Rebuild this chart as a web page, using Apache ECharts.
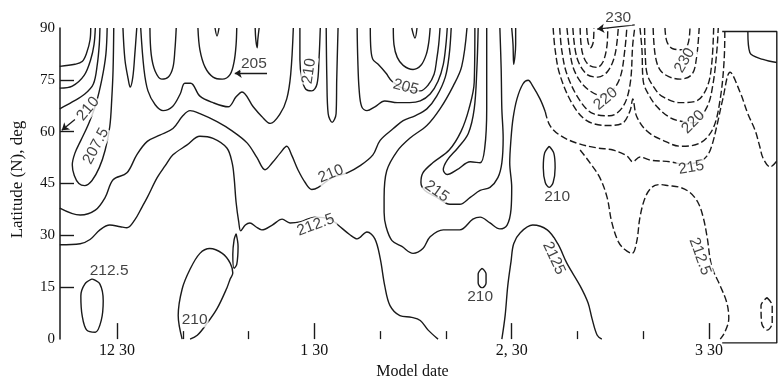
<!DOCTYPE html>
<html>
<head>
<meta charset="utf-8">
<script src="https://cdn.jsdelivr.net/npm/echarts@6/dist/echarts.min.js"></script>
<style>
html,body{margin:0;padding:0;background:#fff}
#chart{width:782px;height:385px}
</style>
</head>
<body>
<div id="chart"></div>
<script>
// ---------- axes ----------
const dateTickDays = [0, 30, 60, 90];
const dateTickLabels = ['12 30', '1 30', '2, 30', '3 30'];
const minorTickDays = [10, 20, 40, 50, 70, 80];
const latTickValues = [15, 30, 45, 60, 75];

// ---------- isotherms, [day after 12/30, latitude N] ----------
const isoA = [[-8.7,78.9],[-6.4,79.5],[-5.3,80.3],[-4.6,82.9],[-4.1,86.6],[-4.0,90]];
const isoB = [[-8.7,72.6],[-6.8,73.2],[-5.0,76.3],[-4.0,80.9],[-3.5,85.2],[-3.3,90]];
const isoC = [[-8.7,66.6],[-6.8,68.6],[-4.9,70.9],[-3.6,73.8],[-3.0,79.5],[-2.7,85.2],[-2.6,90]];
const iso2075 = [[-1.5,90],[-1.7,82.3],[-2.3,75.2],[-3.2,68.1],[-4.3,62.4],[-5.5,57.5],[-6.4,53.8],[-6.8,50.4],[-6.5,47.3],[-5.8,45.0],[-4.9,44.4],[-3.8,45.9],[-2.7,49.6],[-1.8,54.7],[-1.1,61.5],[-0.8,69.5],[-0.6,78.0],[-0.5,90]];
const isoV1 = [[0.9,90],[1.2,80.9],[1.7,75.2],[2.0,72.9],[2.4,75.8],[2.7,82.3],[3.0,90]];
const isoU1 = [[5.0,90],[5.2,82.3],[5.8,77.5],[6.8,75.2],[7.8,75.8],[8.5,78.6],[8.8,83.7],[9.0,90]];
const isoG = [[3.6,90],[4.1,78.0],[4.7,71.8],[5.8,67.8],[7.0,66.1],[8.4,67.2],[9.6,70.9],[10.3,74.0],[11.2,74.0],[12.6,70.3],[14.6,68.4],[16.9,67.2],[18.1,70.1],[19.0,71.5],[20.7,67.2],[22.0,64.4],[23.3,62.4],[24.8,65.2],[25.8,69.5],[26.4,76.6],[26.8,90]];
const isoU2 = [[12.3,90],[12.6,83.7],[13.4,78.6],[14.6,75.8],[16.0,75.2],[17.2,76.6],[17.8,80.3],[18.1,85.2],[18.2,90]];
const isoV0 = [[14.9,90],[15.2,87.7],[15.5,90]];
const isoV2 = [[21.0,90],[21.1,86.6],[21.3,84.3],[21.4,86.6],[21.6,90]];
const isoU3 = [[27.8,90],[27.8,80.9],[28.1,75.2],[28.7,72.3],[29.6,71.8],[30.4,73.8],[30.7,80.9],[30.9,90]];
const isoU4 = [[31.8,90],[31.9,75.2],[32.1,65.2],[32.7,62.7],[33.3,65.2],[33.4,75.2],[33.6,90]];
const isoMout = [[36.5,90],[36.6,80.9],[36.8,72.3],[37.2,67.2],[38.0,66.1],[39.2,67.2],[40.7,68.9],[42.6,68.4],[44.5,68.4],[46.1,68.9],[47.6,70.9],[48.8,74.6],[49.6,79.5],[50.0,85.2],[50.2,90]];
const iso205 = [[38.5,90],[38.6,83.7],[38.9,80.9],[39.7,79.5],[40.9,76.9],[41.8,74.6],[43.8,72.3],[46.1,71.8],[47.3,73.5],[48.2,76.6],[48.6,80.9],[48.9,85.2],[49.1,90]];
const isoMin = [[42.0,90],[42.1,85.2],[42.6,81.5],[43.5,79.2],[45.0,78.0],[46.2,79.2],[47.0,82.3],[47.4,86.0],[47.6,90]];
const isoV3 = [[44.8,90],[45.3,87.1],[45.6,90]];
const iso210 = [[-8.7,37.9],[-5.6,35.9],[-3.3,37.3],[-1.8,41.0],[-0.6,46.1],[1.5,48.1],[3.0,53.3],[4.6,57.2],[6.5,59.0],[8.5,60.9],[10.0,64.6],[11.1,66.1],[12.6,65.2],[15.2,62.9],[17.6,60.1],[19.8,56.7],[21.3,52.4],[22.5,49.0],[23.6,51.0],[24.8,53.8],[25.8,55.8],[26.6,53.0],[27.5,49.0],[28.6,45.3],[29.6,43.3],[30.6,43.9],[32.7,46.7],[35.0,48.1],[36.9,50.1],[38.9,53.3],[40.0,57.5],[42.0,60.9],[43.5,63.2],[45.3,64.6],[47.1,66.6],[48.6,70.3],[49.9,75.8],[50.5,82.3],[50.8,90]];
const iso2125 = [[-8.7,27.3],[-5.6,27.6],[-4.1,28.8],[-2.6,31.6],[-1.1,33.0],[0.5,32.5],[1.5,32.2],[2.7,34.5],[3.8,38.2],[4.6,41.0],[6.1,46.7],[7.3,50.1],[8.5,53.3],[10.6,56.1],[12.6,58.7],[14.6,58.1],[16.7,55.3],[17.5,51.0],[17.8,46.7],[18.1,39.6],[18.5,33.9],[18.8,31.3],[19.5,33.0],[20.2,33.6],[21.1,32.5],[22.0,31.6],[23.6,33.0],[25.1,34.7],[26.3,33.6],[27.8,33.9],[30.1,35.3],[32.4,34.7],[33.6,33.0],[35.4,30.2],[36.5,29.0],[38.0,31.0],[39.2,29.0],[40.0,23.4],[40.7,15.4],[41.5,9.7],[43.0,6.8],[44.8,6.3],[46.1,5.4],[47.3,2.6],[48.8,0]];
const isoK1 = [[53.2,90],[52.4,78.9],[51.1,73.2],[49.1,66.6],[47.1,61.8],[44.5,58.1],[42.6,54.4],[41.0,48.7],[40.6,41.0],[40.6,36.7],[40.9,32.5],[41.8,28.5],[43.3,26.8],[45.0,24.8],[46.5,26.2],[47.6,29.6],[49.6,31.6],[52.1,31.6],[54.1,34.7],[55.2,35.3],[56.7,33.6],[58.2,31.9],[59.3,33.0],[59.9,37.6],[60.0,43.9],[59.7,51.0],[59.9,58.1],[60.2,63.8],[60.8,69.5],[61.7,73.8],[62.5,74.9],[63.2,73.2],[64.3,69.5],[65.1,65.8]];
const isoK1east = [[65.1,65.8],[65.8,61.8],[67.3,59.0],[69.9,56.7],[73.0,55.3],[75.4,54.7],[77.5,53.0],[78.4,51.3],[79.5,52.7],[81.0,51.8],[84.1,51.3],[86.0,50.6],[88.5,51.3],[89.7,53.0],[90.4,55.8],[91.2,61.8],[92.1,69.5],[93.2,77.2],[94.7,71.5],[95.9,65.2],[97.0,60.4],[97.7,55.8],[98.2,52.4],[99.3,49.8],[100.3,51.5]];
const isoK2 = [[54.4,90],[54.3,74.3],[53.5,66.6],[52.3,60.1],[50.5,54.7],[48.0,51.0],[46.5,48.1],[46.2,45.3],[46.8,43.0],[48.6,41.0],[50.6,39.0],[52.1,39.0],[53.7,41.0],[55.2,43.0],[56.7,43.9],[57.9,46.7],[58.5,51.0],[58.7,58.1],[58.5,66.6],[58.4,78.0],[58.2,90]];
const isoK3 = [[54.9,90],[54.7,78.0],[54.3,66.6],[53.4,59.5],[51.8,55.3],[50.2,51.8],[49.6,49.0],[50.2,47.6],[51.7,49.0],[53.7,51.3],[55.2,51.0],[55.9,55.3],[56.2,66.6],[56.2,80.9],[56.2,90]];
const isoV4 = [[60.0,90],[60.2,85.2],[60.3,79.5],[60.6,85.2],[60.6,90]];
const isoS = [[58.5,0],[59.0,6.8],[59.4,15.4],[59.9,22.5],[60.3,27.6],[61.3,30.8],[63.2,33.0],[65.4,31.6],[67.0,27.6],[68.4,21.9],[70.4,15.4],[71.6,10.5],[72.2,6.0],[73.0,1.1],[73.7,0]];
const isoR = [[70.4,54.7],[71.9,51.0],[73.4,46.7],[74.5,41.0],[75.2,33.9],[76.2,28.2],[77.2,25.9],[78.3,24.8],[79.0,28.2],[79.5,35.3],[80.3,41.0],[81.3,43.9],[82.5,44.7],[83.8,44.4],[85.6,43.9],[87.1,42.4],[88.3,39.6],[89.1,35.3],[89.7,29.6],[90.4,21.1],[91.7,15.4],[92.7,10.5],[93.0,6.0],[92.4,2.0],[91.7,0]];
const isoP1a = [[71.4,90],[71.6,86.0],[72.0,84.3],[72.4,86.0],[72.5,90]];
const isoP1b = [[70.4,90],[70.7,83.2],[71.6,79.5],[73.0,78.6],[73.9,80.3],[74.5,85.2],[74.6,90]];
const isoP1c = [[69.3,90],[69.9,81.5],[71.4,76.6],[73.1,75.8],[74.6,77.5],[75.7,82.3],[76.2,90]];
const isoP1d = [[68.4,90],[69.2,79.5],[70.4,74.6],[71.9,71.8],[73.4,70.6],[75.2,71.8],[76.5,75.8],[77.2,83.7],[77.5,90]];
const isoP1e = [[67.3,90],[67.6,83.7],[68.4,76.6],[70.4,68.9],[72.4,65.2],[74.9,64.6],[76.9,67.2],[78.0,73.8],[78.4,85.2],[78.7,90]];
const isoW = [[66.3,90],[66.6,83.7],[67.3,76.6],[69.2,68.1],[71.4,63.2],[74.5,61.8],[76.8,62.4],[78.0,66.1],[78.4,69.5],[79.0,64.4],[80.6,60.1],[83.0,57.5],[85.6,55.8],[88.6,56.7],[90.6,60.9],[91.7,69.5],[92.3,80.9],[92.4,90]];
const isoP2a = [[83.3,90],[83.6,86.0],[84.5,84.0],[86.0,83.7],[86.8,85.4],[87.1,90]];
const isoP2b = [[81.5,90],[81.8,82.3],[82.5,78.0],[83.8,76.0],[85.6,75.2],[87.4,76.6],[88.1,81.5],[88.5,90]];
const isoP2c = [[80.2,90],[80.3,82.3],[80.6,76.6],[81.6,72.9],[82.8,70.3],[85.6,68.4],[88.1,68.9],[89.7,72.9],[90.4,79.5],[90.7,90]];
const isoP2d = [[79.5,90],[79.8,83.7],[80.0,74.6],[81.0,70.1],[82.1,67.2],[83.8,64.4],[85.3,63.2],[87.6,62.6],[89.7,67.2],[90.6,73.8],[91.2,83.7],[91.4,90]];
const isoCorner = [[95.9,89],[96.2,82.9],[98.2,80.9],[100.3,80.0]];

// closed cells
const cell2125 = [[-3.8,17.4],[-2.6,15.9],[-2.1,11.1],[-2.4,5.4],[-3.3,2.0],[-4.6,2.6],[-5.3,6.8],[-5.5,12.5],[-4.9,15.9],[-3.8,17.4]];
const cell210s = [[9.9,0],[9.3,6.8],[9.9,14.5],[11.1,20.2],[12.6,24.8],[14.1,26.2],[16.0,24.8],[17.2,22.0],[17.6,19.1],[17.2,17.4],[16.7,14.8],[15.2,8.8],[13.7,4.6],[12.2,1.1],[11.1,0]];
const cellNarrow = [[18.1,30.5],[18.4,26.8],[18.2,21.6],[17.8,20.5],[17.6,24.5],[17.8,28.8],[18.1,30.5]];
const cell210b = [[55.5,20.5],[56.1,18.8],[56.1,16.2],[55.5,14.8],[54.9,16.2],[54.9,18.8],[55.5,20.5]];
const cell210a = [[65.7,55.8],[66.4,53.8],[66.6,49.6],[66.3,45.3],[65.7,43.9],[65.1,45.3],[64.8,49.6],[65.0,53.8],[65.7,55.8]];
const cellEast = [[98.8,12.0],[99.6,9.7],[99.6,4.6],[98.8,2.6],[98.0,4.6],[97.9,9.7],[98.8,12.0]];

// frame of the extended late-March panel
const eastFrame = [[92.0,89],[100.3,89],[100.3,-1.1],[92.0,-1.1]];

// isotherm labels: [day, latitude, text]
const isoLabels = [
  [-4.4, 66.6, '210'], [-3.2, 55.8, '207.5'], [29.2, 77.5, '210'],
  [43.9, 72.9, '205'], [32.5, 47.8, '210'], [30.2, 33.0, '212.5'],
  [48.6, 42.7, '215'], [66.9, 41.3, '210'], [55.2, 12.4, '210'],
  [66.4, 23.4, '2125'], [88.6, 23.9, '212.5'], [87.3, 49.6, '215'],
  [74.3, 69.5, '220'], [86.3, 80.6, '230'], [87.6, 62.8, '220'],
  [-1.2, 19.9, '212.5'], [11.8, 5.7, '210'],
  [20.8, 79.8, '205'], [76.2, 93.1, '230']
];
const isoLabelAngles = [50, 62, 82, -15, 22, 20, -35, 0, 0, -65, -70, 10, 40, 60, 45, 0, 0, 0, 0];

// pointer lines from labels: [[day, lat], [day, lat]]
const pointers = [
  [[22.8, 76.9], [17.9, 76.9]],
  [[78.7, 90.9], [73.0, 89.7]],
  [[-6.4, 63.5], [-8.4, 60.4]]
];

const solidCurves = [isoA, isoB, isoC, iso2075, isoV1, isoU1, isoG, isoU2, isoV0, isoV2,
  isoU3, isoU4, isoMout, iso205, isoMin, isoV3, iso210, iso2125, isoK1, isoK2, isoK3,
  isoV4, isoS, cell2125, cell210s, cellNarrow, cell210b, cell210a, isoCorner];
const dashedCurves = [isoK1east, isoR, isoP1a, isoP1b, isoP1c, isoP1d, isoP1e, isoW,
  isoP2a, isoP2b, isoP2c, isoP2d, cellEast];

const INK = '#1a1a1a';
const SERIF = '"Liberation Serif", "DejaVu Serif", serif';
const SANS = '"Liberation Sans", "DejaVu Sans", sans-serif';

function curveSeries(data, dashed) {
  return {
    type: 'line', data: data, xAxisIndex: 0, yAxisIndex: 0,
    showSymbol: false, symbol: 'none', smooth: 0.35, clip: false, silent: true,
    lineStyle: { color: INK, width: 1.4, type: dashed ? [7, 3] : 'solid' },
    z: 2
  };
}

const series = [];
solidCurves.forEach(c => series.push(curveSeries(c, false)));
dashedCurves.forEach(c => series.push(curveSeries(c, true)));
series.push({
  type: 'line', data: eastFrame, showSymbol: false, symbol: 'none', smooth: false,
  clip: false, silent: true, lineStyle: { color: INK, width: 1.4 }, z: 2
});
series.push({
  type: 'lines', coordinateSystem: 'cartesian2d', clip: false, silent: true,
  symbol: ['none', 'arrow'], symbolSize: 7,
  itemStyle: { color: INK },
  lineStyle: { color: INK, width: 1.3, opacity: 1, curveness: 0 },
  data: pointers.map(p => ({ coords: p })), z: 4
});
series.push({
  type: 'scatter', symbolSize: 0, clip: false, silent: true, z: 5,
  data: isoLabels.map((l, i) => ({
    value: [l[0], l[1]],
    label: { formatter: l[2], rotate: isoLabelAngles[i] }
  })),
  label: {
    show: true, position: 'inside', color: '#111', fontFamily: SANS, fontSize: 15.5,
    backgroundColor: '#fff', padding: [0, 1]
  }
});

const X_MIN = -8.67, X_MAX = 100.33;
const chart = echarts.init(document.getElementById('chart'), null, { renderer: 'canvas' });
chart.setOption({
  animation: false,
  backgroundColor: '#fff',
  grid: { left: 60, right: 5, top: 28, bottom: 41 },
  xAxis: [
    {
      type: 'value', min: X_MIN, max: X_MAX, position: 'bottom',
      axisLine: { show: false, onZero: false },
      splitLine: { show: false },
      axisTick: { show: true, inside: true, length: 16, customValues: dateTickDays,
        lineStyle: { color: INK, width: 1.4 } },
      axisLabel: { show: true, customValues: dateTickDays, margin: 4,
        formatter: v => dateTickLabels[dateTickDays.indexOf(v)] || '',
        fontFamily: SERIF, fontSize: 16, color: '#111' },
      name: 'Model date', nameLocation: 'middle', nameGap: 19,
      nameTextStyle: { fontFamily: SERIF, fontSize: 16, color: '#111', padding: [0, 12, 0, 0] }
    },
    {
      type: 'value', min: X_MIN, max: X_MAX, position: 'bottom',
      axisLine: { show: false, onZero: false },
      splitLine: { show: false },
      axisTick: { show: true, inside: true, length: 8, customValues: minorTickDays,
        lineStyle: { color: INK, width: 1.3 } },
      axisLabel: { show: false }
    }
  ],
  yAxis: {
    type: 'value', min: 0, max: 90, interval: 15,
    axisLine: { show: true, onZero: false, lineStyle: { color: INK, width: 1.5 } },
    splitLine: { show: false },
    axisTick: { show: true, inside: true, length: 14, customValues: latTickValues,
      lineStyle: { color: INK, width: 1.4 } },
    axisLabel: { fontFamily: SERIF, fontSize: 15, color: '#111', margin: 5 },
    name: 'Latitude (N), deg', nameLocation: 'middle', nameRotate: 90, nameGap: 34,
    nameTextStyle: { fontFamily: SERIF, fontSize: 17, color: '#111', padding: [0, 0, 0, 8] }
  },
  series: series
});
</script>
</body>
</html>
